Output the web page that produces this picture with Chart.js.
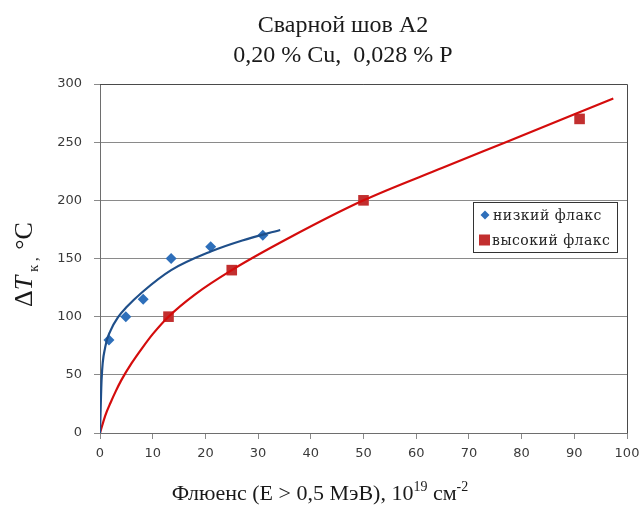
<!DOCTYPE html>
<html>
<head>
<meta charset="utf-8">
<script src="https://cdn.jsdelivr.net/npm/chart.js@4.4.1/dist/chart.umd.min.js"></script>
<style>
  html, body { margin: 0; padding: 0; background: #fff; }
  #wrap { width: 640px; height: 508px; }
</style>
</head>
<body>
<div id="wrap"><canvas id="chart" width="640" height="508"></canvas></div>
<script>
// measured points
const lowFluxX = [1.7, 4.9, 8.2, 13.5, 21, 30.9];
const lowFluxY = [80, 100, 115, 150, 160, 170];
const highFluxX = [13, 25, 50, 91];
const highFluxY = [100, 140, 200, 270];

// trend curves
const lowFitX = [0, 0.3, 1, 2, 3.5, 5, 8, 13.5, 21, 27, 34.2];
const lowFitY = [0, 46, 74, 88, 100, 108, 121, 140, 156, 165.5, 174.5];
const highFitX = [0, 1, 2, 3, 4, 6, 8, 10, 13, 18, 25, 36, 50, 65, 77, 97.4];
const highFitY = [0, 15, 26, 36, 45, 60, 73, 85, 100, 119, 140, 168, 200, 228, 250, 287.5];

const xTicks = [0, 10, 20, 30, 40, 50, 60, 70, 80, 90, 100];
const yTicks = [0, 50, 100, 150, 200, 250, 300];

const titleLines = ["Сварной шов А2", "0,20 % Cu,  0,028 % P"];
const legendLabels = ["низкий флакс", "высокий флакс"];

const toPoints = (xs, ys) => xs.map((x, i) => ({ x: x, y: ys[i] }));

const blueMark = "#2e6fba";
const blueLine = "#1f4f8a";
const redMark = "#c22f2f";
const redLine = "#d40c0c";

function drawRich(ctx, parts, x, y, align) {
  let total = 0;
  parts.forEach(p => {
    ctx.font = p.font;
    p.w = ctx.measureText(p.t).width;
    total += p.w;
  });
  let cx = align === "center" ? x - total / 2 : x;
  ctx.textAlign = "left";
  ctx.textBaseline = "alphabetic";
  parts.forEach(p => {
    ctx.font = p.font;
    ctx.fillText(p.t, cx, y + (p.dy || 0));
    cx += p.w;
  });
}

const decor = {
  id: "decor",
  beforeDatasetsDraw(chart) {
    const a = chart.chartArea;
    const ctx = chart.ctx;
    ctx.save();
    ctx.strokeStyle = "#4a4a4a";
    ctx.lineWidth = 1;
    ctx.beginPath();
    ctx.moveTo(a.left, a.top + 0.5);
    ctx.lineTo(a.right + 0.5, a.top + 0.5);
    ctx.lineTo(a.right + 0.5, a.bottom);
    ctx.stroke();
    ctx.restore();
  },
  afterDraw(chart) {
    const ctx = chart.ctx;
    ctx.save();
    ctx.fillStyle = "#1a1a1a";

    // title
    ctx.font = '24px "Liberation Serif"';
    ctx.textAlign = "center";
    ctx.textBaseline = "alphabetic";
    ctx.fillText(titleLines[0], 343, 32);
    ctx.fillText(titleLines[1], 343, 62);

    // x axis title
    const big = '22px "Liberation Serif"';
    const sup = '14px "Liberation Serif"';
    drawRich(ctx, [
      { t: "Флюенс (E > 0,5 МэВ), 10", font: big },
      { t: "19", font: sup, dy: -9 },
      { t: " см", font: big },
      { t: "-2", font: sup, dy: -9 }
    ], 320, 500, "center");

    // y axis title
    ctx.save();
    ctx.translate(32, 307);
    ctx.rotate(-Math.PI / 2);
    drawRich(ctx, [
      { t: "Δ", font: '26px "Liberation Serif"' },
      { t: "T", font: 'italic 26px "Liberation Serif"' },
      { t: " к", font: '15px "Liberation Serif"', dy: 6 },
      { t: " ,  ", font: '15px "Liberation Serif"', dy: 6 },
      { t: "°C", font: '26px "Liberation Serif"' }
    ], 0, 0, "left");
    ctx.restore();

    // legend
    const lx = 473.5, ly = 202.5, lw = 144, lh = 50;
    ctx.fillStyle = "#fff";
    ctx.fillRect(lx, ly, lw, lh);
    ctx.strokeStyle = "#333";
    ctx.lineWidth = 1;
    ctx.strokeRect(lx, ly, lw, lh);

    ctx.fillStyle = blueMark;
    ctx.beginPath();
    ctx.moveTo(485, 210.5);
    ctx.lineTo(489.5, 215);
    ctx.lineTo(485, 219.5);
    ctx.lineTo(480.5, 215);
    ctx.closePath();
    ctx.fill();
    ctx.fillStyle = redMark;
    ctx.fillRect(479, 234.5, 11, 11);

    ctx.fillStyle = "#222";
    ctx.font = '14px "DejaVu Serif"';
    ctx.letterSpacing = "0.5px";
    ctx.textAlign = "left";
    ctx.fillText(legendLabels[0], 493, 220);
    ctx.fillText(legendLabels[1], 492, 245);
    ctx.restore();
  }
};

const tickFont = { family: "DejaVu Sans", size: 13 };

new Chart(document.getElementById("chart"), {
  type: "scatter",
  data: {
    datasets: [
      {
        label: "fit low",
        data: toPoints(lowFitX, lowFitY),
        showLine: true,
        borderColor: blueLine,
        borderWidth: 2.2,
        pointRadius: 0,
        cubicInterpolationMode: "monotone"
      },
      {
        label: "fit high",
        data: toPoints(highFitX, highFitY),
        showLine: true,
        borderColor: redLine,
        borderWidth: 2.2,
        pointRadius: 0,
        cubicInterpolationMode: "monotone"
      },
      {
        label: legendLabels[0],
        data: toPoints(lowFluxX, lowFluxY),
        pointStyle: "rectRot",
        pointRadius: 5.5,
        backgroundColor: blueMark,
        borderColor: blueMark,
        borderWidth: 0
      },
      {
        label: legendLabels[1],
        data: toPoints(highFluxX, highFluxY),
        pointStyle: "rect",
        pointRadius: 7.5,
        backgroundColor: redMark,
        borderColor: redMark,
        borderWidth: 0
      }
    ]
  },
  options: {
    responsive: false,
    animation: false,
    layout: {
      autoPadding: false,
      padding: { top: 84, right: 13, left: 0, bottom: 0 }
    },
    plugins: {
      legend: { display: false },
      title: { display: false },
      tooltip: { enabled: false }
    },
    scales: {
      x: {
        type: "linear",
        min: 0,
        max: 100,
        afterFit: s => { s.height = 75; s.paddingLeft = 0; s.paddingRight = 0; },
        afterBuildTicks: s => { s.ticks = xTicks.map(v => ({ value: v })); },
        border: { display: true, color: "#6e6e6e", width: 1 },
        grid: {
          drawOnChartArea: false,
          drawTicks: true,
          tickLength: 6,
          tickColor: "#8a8a8a"
        },
        ticks: { font: tickFont, color: "#3a3a3a", padding: 7, maxRotation: 0 }
      },
      y: {
        type: "linear",
        min: 0,
        max: 300,
        afterFit: s => { s.width = 100; s.paddingTop = 0; s.paddingBottom = 0; },
        afterBuildTicks: s => { s.ticks = yTicks.map(v => ({ value: v })); },
        border: { display: true, color: "#6e6e6e", width: 1 },
        grid: {
          color: "#8a8a8a",
          drawTicks: true,
          tickLength: 6,
          tickColor: "#8a8a8a"
        },
        ticks: { font: tickFont, color: "#3a3a3a", padding: 12 }
      }
    }
  },
  plugins: [decor]
});
</script>
</body>
</html>
